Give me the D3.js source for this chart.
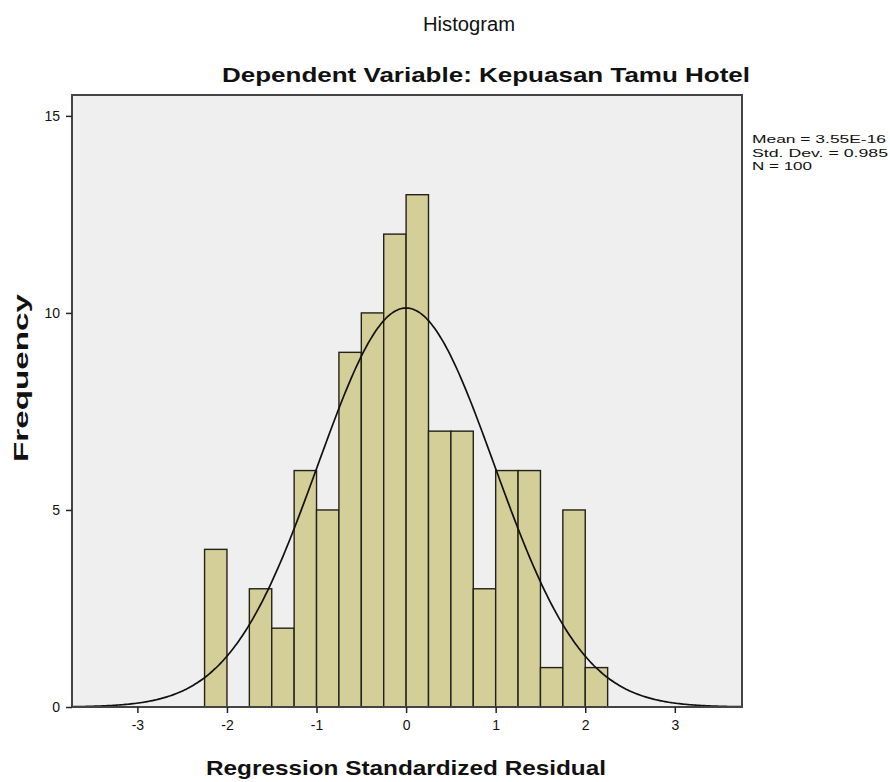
<!DOCTYPE html>
<html>
<head>
<meta charset="utf-8">
<script src="https://cdn.jsdelivr.net/npm/d3@7"></script>
<style>
  body { margin: 0; background: #fff; }
  svg text { font-family: "Liberation Sans", Arial, sans-serif; fill: #111; }
</style>
</head>
<body>
<svg id="chart" width="890" height="782"></svg>
<script>
// bin edges (standardized residual) and counts
const binStarts = [-2.25, -2.0, -1.75, -1.5, -1.25, -1.0, -0.75, -0.5, -0.25, 0, 0.25, 0.5, 0.75, 1.0, 1.25, 1.5, 1.75, 2.0];
const counts    = [4, 0, 3, 2, 6, 5, 9, 10, 12, 13, 7, 7, 3, 6, 6, 1, 5, 1];
const binWidth = 0.25;
const xTicks = [-3, -2, -1, 0, 1, 2, 3];
const yTicks = [0, 5, 10, 15];
const stats = ["Mean = 3.55E-16", "Std. Dev. = 0.985", "N = 100"];
const statWidths = [134, 136, 60];
const mean = 0, sd = 0.985, n = 100;

const svg = d3.select("#chart");
const plot = { left: 72, right: 742, top: 95, bottom: 707 };

const x = d3.scaleLinear().domain([-3.73, 3.75]).range([plot.left, plot.right]);
const y = d3.scaleLinear().domain([0, 15.53]).range([plot.bottom, plot.top]);

// plot background
svg.append("rect")
    .attr("x", plot.left).attr("y", plot.top)
    .attr("width", plot.right - plot.left).attr("height", plot.bottom - plot.top)
    .attr("fill", "#efeff0");

// bars
const bins = binStarts.map((s, i) => ({ x0: s, x1: s + binWidth, count: counts[i] })).filter(d => d.count > 0);
svg.append("g")
    .selectAll("rect")
    .data(bins)
    .join("rect")
    .attr("x", d => x(d.x0))
    .attr("y", d => y(d.count))
    .attr("width", d => x(d.x1) - x(d.x0))
    .attr("height", d => y(0) - y(d.count))
    .attr("fill", "#d4cf98")
    .attr("stroke", "#222218")
    .attr("stroke-width", 1.4);

// normal curve
const pdf = v => n * binWidth * Math.exp(-0.5 * ((v - mean) / sd) ** 2) / (sd * Math.sqrt(2 * Math.PI));
const curvePts = d3.range(x.domain()[0], x.domain()[1] + 0.001, 0.02).map(v => [v, pdf(v)]);
svg.append("path")
    .datum(curvePts)
    .attr("fill", "none")
    .attr("stroke", "#111")
    .attr("stroke-width", 1.7)
    .attr("d", d3.line().x(d => x(d[0])).y(d => y(d[1])).curve(d3.curveBasis));

// frame
svg.append("rect")
    .attr("x", plot.left).attr("y", plot.top)
    .attr("width", plot.right - plot.left).attr("height", plot.bottom - plot.top)
    .attr("fill", "none")
    .attr("stroke", "#444")
    .attr("stroke-width", 2);

// axes
const xAxis = svg.append("g")
    .attr("transform", `translate(0,${plot.bottom})`)
    .call(d3.axisBottom(x).tickValues(xTicks).tickSize(6).tickPadding(7).tickFormat(d => String(d)));
const yAxis = svg.append("g")
    .attr("transform", `translate(${plot.left},0)`)
    .call(d3.axisLeft(y).tickValues(yTicks).tickSize(6).tickPadding(6).tickFormat(d => String(d)));
[xAxis, yAxis].forEach(a => {
    a.select(".domain").remove();
    a.selectAll(".tick line").attr("stroke", "#222").attr("stroke-width", 1.5);
    a.selectAll(".tick text").style("font-size", "14px").attr("fill", "#111");
});

// titles
svg.append("text")
    .attr("x", 423).attr("y", 31)
    .attr("textLength", 92).attr("lengthAdjust", "spacingAndGlyphs")
    .style("font-size", "20px")
    .text("Histogram");
svg.append("text")
    .attr("x", 222).attr("y", 82)
    .attr("textLength", 528).attr("lengthAdjust", "spacingAndGlyphs")
    .style("font-size", "21px").style("font-weight", "bold")
    .text("Dependent Variable: Kepuasan Tamu Hotel");
svg.append("text")
    .attr("x", 206).attr("y", 775)
    .attr("textLength", 400).attr("lengthAdjust", "spacingAndGlyphs")
    .style("font-size", "21px").style("font-weight", "bold")
    .text("Regression Standardized Residual");
svg.append("text")
    .attr("transform", "translate(28,462) rotate(-90)")
    .attr("textLength", 168).attr("lengthAdjust", "spacingAndGlyphs")
    .style("font-size", "21px").style("font-weight", "bold")
    .text("Frequency");

// stats box text
svg.append("g")
    .selectAll("text")
    .data(stats)
    .join("text")
    .attr("x", 752)
    .attr("y", (d, i) => 143 + i * 13.5)
    .attr("textLength", (d, i) => statWidths[i]).attr("lengthAdjust", "spacingAndGlyphs")
    .style("font-size", "11.5px")
    .text(d => d);
</script>
</body>
</html>
